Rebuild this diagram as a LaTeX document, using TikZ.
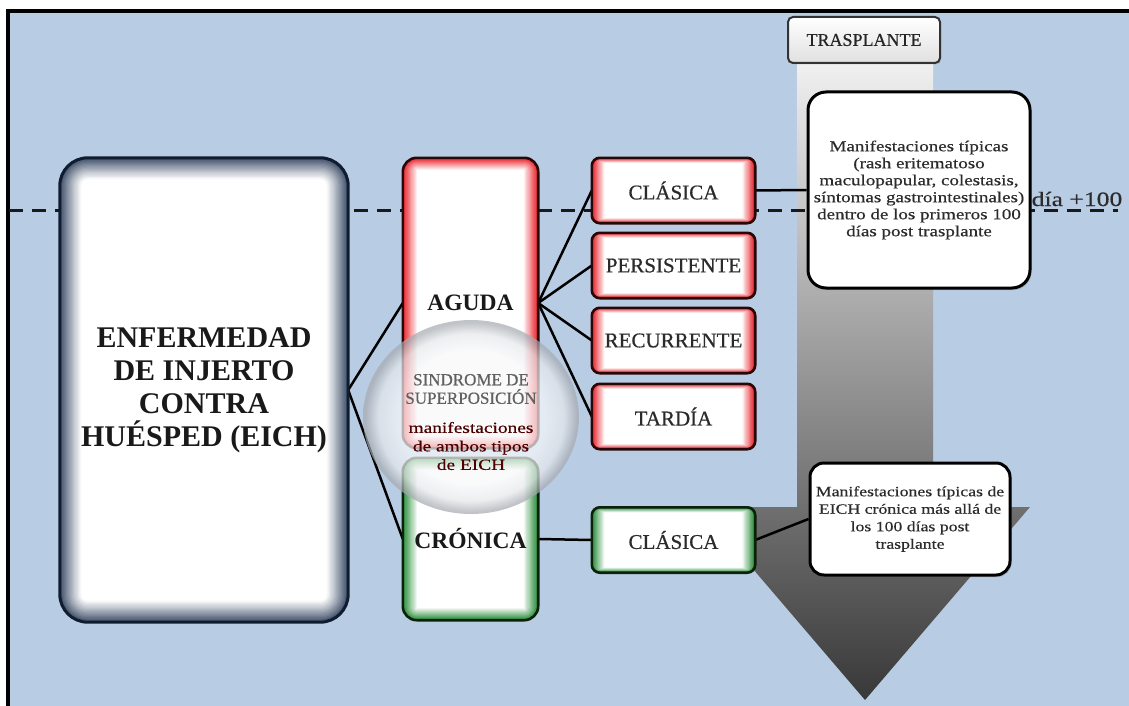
\documentclass[tikz,border=0pt]{standalone}
\usepackage{fontspec}
\setmainfont{Liberation Serif}
\newfontfamily\wide{Liberation Serif}[FakeStretch=1.25, FakeBold=0.4]
\newfontfamily\capsf{Liberation Serif}[FakeBold=0.6]
\usetikzlibrary{calc,shadows}
\definecolor{bgblue}{HTML}{B8CCE4}
\definecolor{navyglow}{HTML}{3E4E68}
\definecolor{navyborder}{HTML}{101C30}
\definecolor{redglow}{HTML}{E8222A}
\definecolor{redborder}{HTML}{2A0707}
\definecolor{greenglow}{HTML}{2A8C3A}
\definecolor{greenborder}{HTML}{0A220A}
\definecolor{txt}{HTML}{2B2B2B}
\definecolor{glA}{HTML}{F8F9FA}
\definecolor{glB}{HTML}{E6E8EB}
\definecolor{glC}{HTML}{A6AAB0}
\pgfdeclareradialshading{glass}{\pgfpointorigin}{color(0bp)=(glA); color(17bp)=(glA); color(21.5bp)=(glB); color(24.5bp)=(glC); color(25bp)=(glC); color(50bp)=(glC)}
\pgfdeclarelayer{bg}
\pgfdeclarelayer{conn}
\pgfdeclarelayer{boxes}
\pgfdeclarelayer{circ}
\pgfsetlayers{bg,conn,boxes,circ,main}
\newcommand\glowbox[8]{%
\begin{pgfonlayer}{boxes}
\foreach \i in {0,...,#3}{%
 \pgfmathtruncatemacro\p{100*(1-\i/#3)^#8}%
 \pgfmathsetmacro\r{max(#6-\i*max(#4,#5),0.6)}%
 \fill[#2!\p!white, rounded corners=\r pt] ($(#1.south west)+(\i*#4,\i*#5)$) rectangle ($(#1.north east)-(\i*#4,\i*#5)$);}
\draw[#7, rounded corners=#6pt] (#1.south west) rectangle (#1.north east);
\end{pgfonlayer}}
\tikzset{
 gb/.style={rectangle, inner sep=0pt, align=center},
 rb/.style={gb, minimum width=163pt, minimum height=65pt, text=txt, font=\capsf\fontsize{21}{24}\selectfont},
 tbox/.style={rectangle, draw=black, line width=3pt, fill=white, rounded corners=18pt, align=center, inner sep=0pt, text=txt, drop shadow={opacity=0.35, shadow xshift=1.5pt, shadow yshift=-2pt}},
 conn/.style={draw=black, line width=2.5pt},
 redb/.style={draw=redborder, line width=2.6pt},
 greenb/.style={draw=greenborder, line width=2.6pt},
}
\begin{document}
\begin{tikzpicture}[x=1pt,y=1pt]
\useasboundingbox (0,0) rectangle (1129,-706);
\begin{pgfonlayer}{bg}
\fill[bgblue] (0,0) rectangle (1129,-706);
\fill[white] (0,0) rectangle (1129,-9);
\fill[white] (0,0) rectangle (5.5,-706);
\draw[line width=4pt] (7.5,-706) -- (7.5,-11) -- (1129,-11);
% big arrow
\shade[top color=black!5, bottom color=black!78] (797,-55) -- (933,-55) -- (933,-507) -- (1030,-507) -- (865,-700) -- (700,-507) -- (797,-507) -- cycle;
% day +100 dashed line
\coordinate (dl) at (9,-210);
\coordinate (dr) at (1118,-210);
\draw[line width=3pt, color=black!90, dash pattern=on 14pt off 9pt] (dl) -- (dr);
\end{pgfonlayer}

% nodes
\node[gb, minimum width=288pt, minimum height=464pt, text=black!90, font=\bfseries\fontsize{30}{33}\selectfont] (eich) at (204,-390) {ENFERMEDAD\\DE INJERTO\\CONTRA\\HUÉSPED (EICH)};
\node[gb, minimum width=135pt, minimum height=290pt, text=black!90, font=\bfseries\fontsize{23.5}{26}\selectfont] (agu) at (470.5,-303) {AGUDA};
\node[gb, minimum width=135pt, minimum height=162pt, text=black!90, font=\bfseries\fontsize{23.5}{26}\selectfont] (cro) at (470.5,-539) {CRÓNICA};
\node[rb] (cla) at (673.5,-190.5) {CLÁSICA};
\node[rb] (per) at (673.5,-265.5) {PERSISTENTE};
\node[rb] (rec) at (673.5,-340.5) {RECURRENTE};
\node[rb] (tar) at (673.5,-416.5) {TARDÍA};
\node[rb] (clg) at (673.5,-540) {CLÁSICA};

\node[rectangle, draw=black!80, line width=2pt, rounded corners=5pt, top color=white, bottom color=black!12, minimum width=152pt, minimum height=46pt, inner sep=0pt, text=black!85, font=\capsf\fontsize{18}{20}\selectfont, drop shadow={opacity=0.3, shadow xshift=1pt, shadow yshift=-1.5pt}] (tras) at (864,-40) {TRASPLANTE};

\node[tbox, minimum width=222pt, minimum height=196pt, font=\wide\fontsize{15.2}{17}\selectfont] (t1) at (919,-190) {Manifestaciones típicas\\(rash eritematoso\\maculopapular, colestasis,\\síntomas gastrointestinales)\\dentro de los primeros 100\\días post trasplante};
\node[tbox, rounded corners=14pt, minimum width=200pt, minimum height=112pt, font=\wide\fontsize{14.2}{17.5}\selectfont] (t2) at (910,-519) {Manifestaciones típicas de\\EICH crónica más allá de\\los 100 días post\\trasplante};

\node[text=txt, font=\wide\fontsize{20.5}{22}\selectfont, inner sep=0pt] (d100) at (1077,-199) {día +100};

% glow boxes
\glowbox{eich}{navyglow}{18}{1.2}{1.2}{28}{draw=navyborder, line width=3pt}{1.1}
\glowbox{agu}{redglow}{12}{1.2}{1.0}{14}{redb}{1.0}
\glowbox{cro}{greenglow}{12}{1.2}{1.0}{14}{greenb}{1.0}
\glowbox{cla}{redglow}{10}{1.25}{0.5}{8}{redb}{1.0}
\glowbox{per}{redglow}{10}{1.25}{0.5}{8}{redb}{1.0}
\glowbox{rec}{redglow}{10}{1.25}{0.5}{8}{redb}{1.0}
\glowbox{tar}{redglow}{10}{1.25}{0.5}{8}{redb}{1.0}
\glowbox{clg}{greenglow}{10}{1.25}{0.5}{8}{greenb}{1.0}

% connectors
\begin{pgfonlayer}{conn}
\draw[conn] (eich.east) -- (agu.west);
\draw[conn] (eich.east) -- (cro.west);
\draw[conn] (agu.east) -- (cla.west);
\draw[conn] (agu.east) -- (per.west);
\draw[conn] (agu.east) -- (rec.west);
\draw[conn] (agu.east) -- (tar.west);
\draw[conn] (cro.east) -- (clg.west);
\draw[conn] (cla.east) -- (t1.west);
\draw[conn] (clg.east) -- (t2.west);
\end{pgfonlayer}

% overlap circle
\begin{pgfonlayer}{circ}
\shade[shading=glass, fill opacity=0.7] (471,-417) ellipse [x radius=108, y radius=97];
\end{pgfonlayer}
\node[text=black!62, font=\capsf\fontsize{17}{18.5}\selectfont, align=center, inner sep=0pt] (sup) at (471,-389) {SINDROME DE\\SUPERPOSICIÓN};
\node[text=black!70!red, font=\wide\fontsize{15.5}{18.5}\selectfont, align=center, inner sep=0pt] (amb) at (471,-446) {manifestaciones\\de ambos tipos\\de EICH};
\end{tikzpicture}
\end{document}
